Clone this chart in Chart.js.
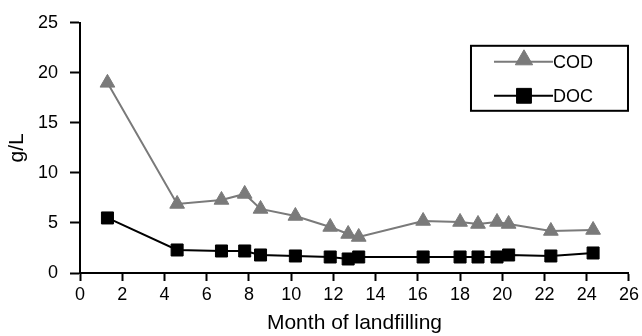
<!DOCTYPE html>
<html>
<head>
<meta charset="utf-8">
<script src="https://cdn.jsdelivr.net/npm/chart.js@4.4.0/dist/chart.umd.min.js"></script>
<style>
  html, body { margin: 0; padding: 0; background: #fff; }
  #wrap { width: 642px; height: 336px; position: relative; }
</style>
</head>
<body>
<div id="wrap"><canvas id="chart" width="642" height="336"></canvas></div>
<script>
// months of landfilling (shared x values)
const months = [1.3, 4.6, 6.7, 7.8, 8.55, 10.2, 11.85, 12.7, 13.2, 16.25, 18.0, 18.85, 19.75, 20.3, 22.3, 24.3];
const codValues = [19.0, 6.9, 7.3, 7.9, 6.4, 5.7, 4.6, 3.9, 3.6, 5.2, 5.1, 4.9, 5.1, 4.9, 4.2, 4.3];
const docValues = [5.5, 2.3, 2.2, 2.2, 1.8, 1.7, 1.6, 1.4, 1.6, 1.6, 1.6, 1.6, 1.6, 1.8, 1.7, 2.0];
const seriesNames = ['COD', 'DOC'];
const xTitle = 'Month of landfilling';
const yTitle = 'g/L';

const FONT = 'Liberation Sans, Arial, sans-serif';
const codColor = '#7a7a7a';
const docColor = '#000000';

function toPoints(ys) {
    return months.map((m, i) => ({ x: m, y: ys[i] }));
}

// legend box drawn inside the plot, top right
const boxLegend = {
    id: 'boxLegend',
    afterDraw(chart) {
        const ctx = chart.ctx;
        const area = chart.chartArea;
        const left = area.right - 158;
        const top = area.top + 23;
        const w = 157, h = 65;
        ctx.save();
        ctx.strokeStyle = '#000';
        ctx.lineWidth = 2;
        ctx.strokeRect(left, top, w, h);

        const rows = [
            { name: seriesNames[0], color: codColor, style: 'triangle', r: 10, y: top + 16 },
            { name: seriesNames[1], color: docColor, style: 'rect', r: 10.5, y: top + 50 }
        ];
        rows.forEach((row) => {
            ctx.strokeStyle = row.color;
            ctx.lineWidth = 2;
            ctx.beginPath();
            ctx.moveTo(left + 23, row.y);
            ctx.lineTo(left + 82, row.y);
            ctx.stroke();
            ctx.fillStyle = row.color;
            ctx.lineWidth = 1;
            Chart.helpers.drawPoint(ctx, { pointStyle: row.style, radius: row.r, borderWidth: 1, rotation: 0 }, left + 53, row.style === 'triangle' ? row.y - 2 : row.y);
            ctx.fillStyle = '#000';
            ctx.font = '18px ' + FONT;
            ctx.textBaseline = 'middle';
            ctx.textAlign = 'left';
            ctx.fillText(row.name, left + 82, row.y + 1);
        });
        ctx.restore();
    }
};

new Chart(document.getElementById('chart').getContext('2d'), {
    type: 'line',
    data: {
        datasets: [
            {
                label: seriesNames[0],
                data: toPoints(codValues),
                borderColor: codColor,
                backgroundColor: codColor,
                borderWidth: 2,
                pointStyle: 'triangle',
                pointRadius: 8.5,
                pointBorderWidth: 1,
                tension: 0
            },
            {
                label: seriesNames[1],
                data: toPoints(docValues),
                borderColor: docColor,
                backgroundColor: docColor,
                borderWidth: 2,
                pointStyle: 'rect',
                pointRadius: 8.5,
                pointBorderWidth: 1,
                tension: 0
            }
        ]
    },
    options: {
        responsive: false,
        animation: false,
        layout: { padding: { top: 21, right: 0, left: 0, bottom: 0 } },
        plugins: {
            legend: { display: false },
            tooltip: { enabled: false }
        },
        scales: {
            x: {
                type: 'linear',
                min: 0,
                max: 26,
                border: { color: '#000', width: 2 },
                grid: { drawOnChartArea: false, drawTicks: true, tickLength: 8, tickWidth: 2, tickColor: '#000' },
                ticks: { stepSize: 2, color: '#000', padding: 3, font: { family: FONT, size: 18 } },
                title: { display: true, text: xTitle, color: '#000', padding: { top: 0, bottom: 0 }, font: { family: FONT, size: 21 } },
                afterFit(scale) { scale.height = 63; }
            },
            y: {
                min: 0,
                max: 25,
                border: { color: '#000', width: 2 },
                grid: { drawOnChartArea: false, drawTicks: true, tickLength: 10, tickWidth: 2, tickColor: '#000' },
                ticks: { stepSize: 5, color: '#000', padding: 12, font: { family: FONT, size: 18 } },
                title: { display: true, text: yTitle, color: '#000', padding: { top: 5, bottom: 0 }, font: { family: FONT, size: 21 } },
                afterFit(scale) { scale.width = 80; }
            }
        }
    },
    plugins: [boxLegend]
});
</script>
</body>
</html>
